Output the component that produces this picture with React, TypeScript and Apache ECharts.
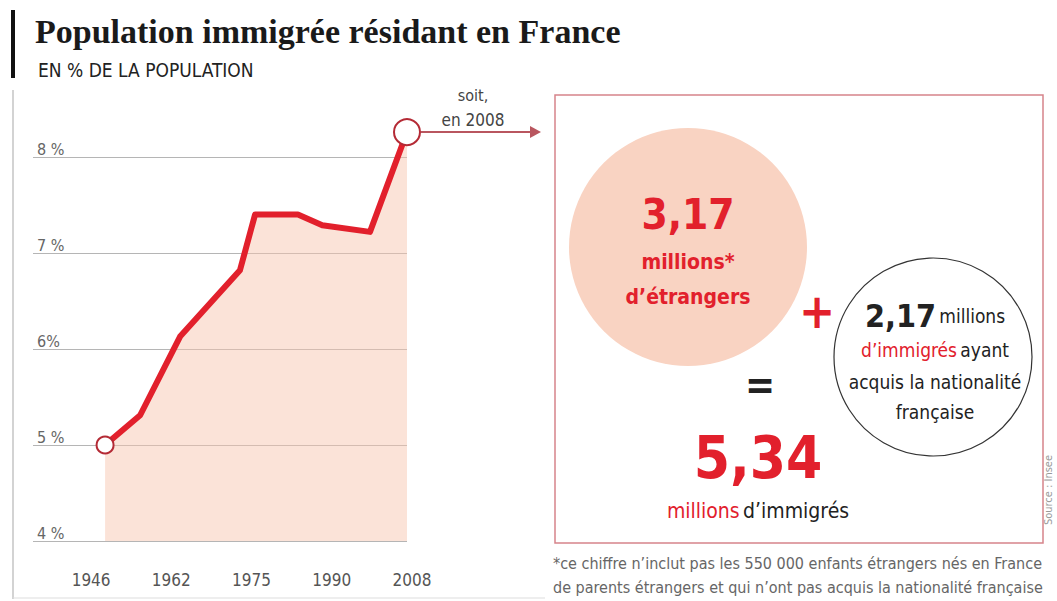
import React, { useEffect, useRef } from "react";
import * as echarts from "echarts";

// ---- data ----
const years = [1946, 1953.2, 1961.4, 1973.7, 1976.8, 1985.6, 1990.6, 2000.4, 2008];
const shares = [5.0, 5.31, 6.13, 6.82, 7.4, 7.4, 7.29, 7.22, 8.26];
const yearLabels = ["1946", "1962", "1975", "1990", "2008"];
const yTickLabels: Record<number, string> = { 4: "4 %", 5: "5 %", 6: "6%", 7: "7 %", 8: "8 %" };

const TITLE = "Population immigrée résidant en France";
const SUBTITLE = "EN % DE LA POPULATION";
const FOOT1 = "*ce chiffre n’inclut pas les 550 000 enfants étrangers nés en France";
const FOOT2 = "de parents étrangers et qui n’ont pas acquis la nationalité française";

const RED = "#e2202c";
const DARK = "#222222";
const NARROW = '"Liberation Sans Narrow", "DejaVu Sans Condensed", "Open Sans", sans-serif';

export default function App() {
  const ref = useRef<HTMLDivElement>(null);
  useEffect(() => {
    if (!ref.current) return;
    const chart = echarts.init(ref.current, null, { renderer: "svg" });
    const pts = years.map((y, i) => [y, shares[i]]);
    const ends = [pts[0], pts[pts.length - 1]];
    chart.setOption({
      animation: false,
      backgroundColor: "#ffffff",
      grid: [
        { left: 33, top: 157, width: 374, height: 384 },
        { left: 51, top: 157, width: 401, height: 384 },
      ],
      xAxis: [
        {
          gridIndex: 0, type: "value", min: 1931.2, max: 2008,
          axisLine: { show: false }, axisTick: { show: false }, axisLabel: { show: false }, splitLine: { show: false },
        },
        {
          gridIndex: 1, type: "category", data: yearLabels, boundaryGap: true,
          axisLine: { show: false }, axisTick: { show: false }, splitLine: { show: false },
          axisLabel: { margin: 30, fontSize: 17, color: "#555", fontFamily: NARROW },
        },
      ],
      yAxis: [
        {
          gridIndex: 0, type: "value", min: 4, max: 8, interval: 1,
          axisLine: { show: false }, axisTick: { show: false },
          splitLine: { show: true, lineStyle: { color: "#b5b5b5", width: 1 } },
          axisLabel: {
            inside: true, margin: 4, align: "left", verticalAlign: "bottom",
            fontSize: 16, color: "#666", fontFamily: NARROW,
            formatter: (v: number) => yTickLabels[v] ?? "",
          },
        },
        { gridIndex: 1, type: "value", show: false },
      ],
      series: [
        {
          type: "line", xAxisIndex: 0, yAxisIndex: 0, data: pts, clip: false,
          symbol: "none", lineStyle: { color: RED, width: 6, join: "round" },
          areaStyle: { color: "rgba(247, 195, 172, 0.68)", origin: "start" },
          z: 3,
        },
        {
          type: "scatter", xAxisIndex: 0, yAxisIndex: 0, clip: false, z: 4,
          data: ends.map((p, i) => ({ value: p, symbolSize: i === 0 ? 17 : 26 })),
          itemStyle: { color: "#ffffff", borderColor: "#b42a35", borderWidth: 2, opacity: 1 },
        },
      ],
      graphic: [
        // title block
        { type: "rect", shape: { x: 11, y: 10, width: 4, height: 68 }, style: { fill: "#111" } },
        { type: "text", x: 35, y: 31, style: { text: TITLE, fill: "#1a1a1a", font: 'bold 34px "Liberation Serif", serif', textVerticalAlign: "middle" } },
        { type: "text", x: 38, y: 70, style: { text: SUBTITLE, fill: "#222", font: `19px ${NARROW}`, textVerticalAlign: "middle" } },
        // frame lines
        { type: "line", shape: { x1: 13, y1: 90, x2: 13, y2: 599 }, style: { stroke: "#c4c4c4", lineWidth: 1.5 } },
        { type: "line", shape: { x1: 13, y1: 598, x2: 545, y2: 598 }, style: { stroke: "#dddddd", lineWidth: 1 } },
        // arrow annotation
        { type: "text", x: 473, y: 95, style: { text: "soit,", fill: "#444", font: `16px ${NARROW}`, textAlign: "center", textVerticalAlign: "middle" } },
        { type: "text", x: 473, y: 120, style: { text: "en 2008", fill: "#444", font: `17px ${NARROW}`, textAlign: "center", textVerticalAlign: "middle" } },
        { type: "line", shape: { x1: 421, y1: 132, x2: 533, y2: 132 }, style: { stroke: "#b9565f", lineWidth: 2 } },
        { type: "polygon", shape: { points: [[530, 126], [541, 132], [530, 138]] }, style: { fill: "#b9565f" } },
        // right box
        { type: "rect", shape: { x: 555, y: 95, width: 488, height: 448 }, style: { fill: "none", stroke: "#d6848b", lineWidth: 1.5 } },
        { type: "circle", shape: { cx: 688, cy: 247, r: 119 }, style: { fill: "#f9d3c2" } },
        { type: "text", x: 688, y: 214, style: { text: "3,17", fill: RED, font: `bold 42px ${NARROW}`, textAlign: "center", textVerticalAlign: "middle" } },
        { type: "text", x: 688, y: 262, style: { text: "millions*", fill: RED, font: `bold 21px ${NARROW}`, textAlign: "center", textVerticalAlign: "middle" } },
        { type: "text", x: 688, y: 297, style: { text: "d’étrangers", fill: RED, font: `bold 21px ${NARROW}`, textAlign: "center", textVerticalAlign: "middle" } },
        { type: "text", x: 817, y: 311, style: { text: "+", fill: RED, font: `bold 48px ${NARROW}`, textAlign: "center", textVerticalAlign: "middle" } },
        { type: "circle", shape: { cx: 933, cy: 357, r: 99 }, style: { fill: "#ffffff", stroke: "#333", lineWidth: 1.2 } },
        {
          type: "text", x: 935, y: 316,
          style: {
            text: "{b|2,17} {s|millions}", textAlign: "center", textVerticalAlign: "middle",
            rich: {
              b: { fill: DARK, fontSize: 32, fontWeight: "bold", fontFamily: NARROW },
              s: { fill: DARK, fontSize: 19, fontFamily: NARROW },
            },
          },
        },
        {
          type: "text", x: 935, y: 350,
          style: {
            text: "{r|d’immigrés} {k|ayant}", textAlign: "center", textVerticalAlign: "middle",
            rich: {
              r: { fill: RED, fontSize: 19, fontFamily: NARROW },
              k: { fill: DARK, fontSize: 19, fontFamily: NARROW },
            },
          },
        },
        { type: "text", x: 935, y: 382, style: { text: "acquis la nationalité", fill: DARK, font: `19px ${NARROW}`, textAlign: "center", textVerticalAlign: "middle" } },
        { type: "text", x: 935, y: 412, style: { text: "française", fill: DARK, font: `19px ${NARROW}`, textAlign: "center", textVerticalAlign: "middle" } },
        { type: "text", x: 760, y: 385, style: { text: "=", fill: DARK, font: `bold 40px ${NARROW}`, textAlign: "center", textVerticalAlign: "middle" } },
        { type: "text", x: 758, y: 458, style: { text: "5,34", fill: RED, font: `bold 58px ${NARROW}`, textAlign: "center", textVerticalAlign: "middle" } },
        {
          type: "text", x: 758, y: 511,
          style: {
            text: "{r|millions} {k|d’immigrés}", textAlign: "center", textVerticalAlign: "middle",
            rich: {
              r: { fill: RED, fontSize: 21, fontFamily: NARROW },
              k: { fill: DARK, fontSize: 21, fontFamily: NARROW },
            },
          },
        },
        // footnote and source
        { type: "text", x: 553, y: 563, style: { text: FOOT1, fill: "#666", font: `16px ${NARROW}`, textVerticalAlign: "middle" } },
        { type: "text", x: 553, y: 587, style: { text: FOOT2, fill: "#666", font: `16px ${NARROW}`, textVerticalAlign: "middle" } },
        { type: "text", x: 1048, y: 490, rotation: Math.PI / 2, style: { text: "Source : Insee", fill: "#999", font: `11px ${NARROW}`, textAlign: "center", textVerticalAlign: "middle" } },
      ],
    });
    return () => chart.dispose();
  }, []);
  return (
    <div
      ref={ref}
      style={{ position: "fixed", left: 0, top: 0, width: 1057, height: 601, background: "#fff" }}
    />
  );
}
